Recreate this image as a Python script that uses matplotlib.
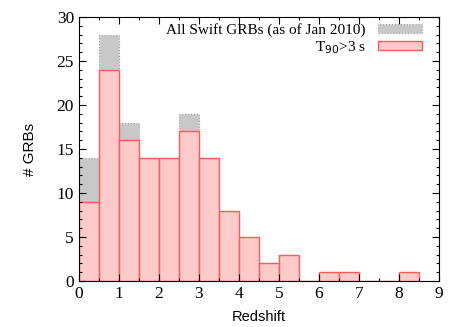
import numpy as np
import matplotlib
matplotlib.use("Agg")
import matplotlib.pyplot as plt
from matplotlib.ticker import MultipleLocator

# histogram data, bins of 0.5 in redshift
bin_edges = np.arange(0, 9.0, 0.5)
all_counts = [14, 28, 18, 14, 14, 19, 14, 8, 5, 2, 3, 0, 1, 1, 0, 0, 1]
long_counts = [9, 24, 16, 14, 14, 17, 14, 8, 5, 2, 3, 0, 1, 1, 0, 0, 1]

fig = plt.figure(figsize=(4.67, 3.27), dpi=100)
ax = fig.add_axes([0.169, 0.141, 0.771, 0.807])

lefts = bin_edges[:-1]
ax.bar(lefts, all_counts, width=0.5, align="edge", color="#c8c8c8",
       edgecolor="#a0a0a0", linewidth=0.8, linestyle=":",
       label="All Swift GRBs (as of Jan 2010)")
ax.bar(lefts, long_counts, width=0.5, align="edge", color="#ffcaca",
       edgecolor="#ff5a5a", linewidth=1.0, label=r"T$_{90}$>3 s")

ax.set_xlim(0, 9)
ax.set_ylim(0, 30)
ax.xaxis.set_major_locator(MultipleLocator(1))
ax.xaxis.set_minor_locator(MultipleLocator(0.5))
ax.yaxis.set_major_locator(MultipleLocator(5))
ax.yaxis.set_minor_locator(MultipleLocator(1))
ax.tick_params(which="both", direction="in", top=True, right=True, width=0.8)
ax.tick_params(which="major", length=5, labelsize=12.5)
ax.tick_params(which="minor", length=2.5)
for lab in ax.get_xticklabels() + ax.get_yticklabels():
    lab.set_family("Liberation Serif")

ax.set_xlabel("Redshift", family="Liberation Sans", fontsize=10.5, labelpad=6)
ax.set_ylabel("# GRBs", family="Liberation Sans", fontsize=11, labelpad=14)

leg = ax.legend(loc="upper right", bbox_to_anchor=(0.953, 0.977), frameon=False,
                markerfirst=False, prop={"family": "Liberation Serif", "size": 11},
                handlelength=2.9, handleheight=0.55, handletextpad=0.8,
                labelspacing=0.12, borderaxespad=0, borderpad=0)
for t in leg.get_texts():
    t.set_ha("right")

fig.savefig("out.png", dpi=100)
